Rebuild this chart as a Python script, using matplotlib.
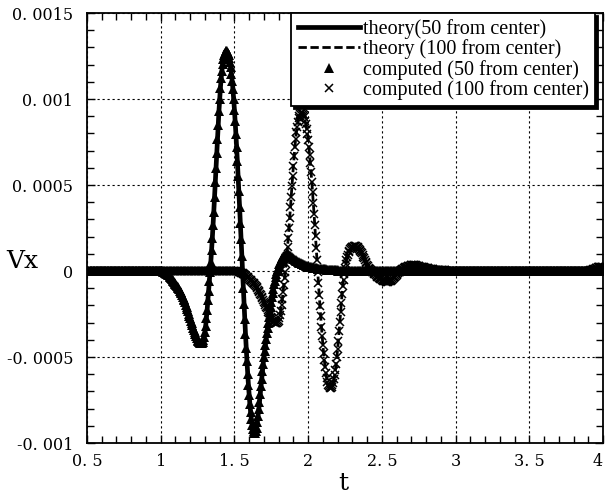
import numpy as np
import matplotlib
matplotlib.use("Agg")
import matplotlib.pyplot as plt
from matplotlib.ticker import FixedLocator, FixedFormatter, MultipleLocator

# ---------------- data (Vx in units of 1e-5) ----------------
T_START, T_END, T_STEP = 0.5, 4.0, 0.005
VX_UNIT = 1e-5

# 50 from center: samples every 0.005 from t = 1.000 to 2.300 (zero elsewhere)
v50_start = 1.0
v50_seg = [
    0, 0, -0.1, -0.3, -0.5, -0.7, -1.0, -1.2, -1.5, -1.9,
    -2.2, -2.6, -3.0, -3.5, -4.0, -4.5, -5.0, -5.6, -6.2, -6.9,
    -7.5, -8.1, -8.8, -9.4, -10.0, -10.7, -11.5, -12.2, -13.0, -14.0,
    -15.0, -16.0, -17.0, -18.2, -19.5, -20.7, -22.0, -23.4, -24.8, -26.1,
    -27.5, -28.9, -30.3, -31.6, -33.0, -34.3, -35.6, -36.8, -38.0, -39.0,
    -40.0, -40.8, -41.4, -41.8, -42.0, -42.0, -41.8, -41.2, -40.0, -38.2,
    -35.5, -32.0, -27.5, -22.5, -17.0, -11.5, -6.0, -0.5, 5.5, 12.0,
    19.0, 26.5, 34.5, 43.0, 51.5, 60.0, 68.5, 77.0, 85.0, 93.0,
    100.0, 106.5, 112.0, 116.5, 120.5, 123.5, 125.5, 127.0, 127.8, 128.0,
    127.8, 127.0, 125.8, 124.0, 121.5, 118.5, 114.8, 110.5, 105.6, 100.0,
    93.8, 87.0, 79.7, 72.0, 63.8, 55.2, 46.3, 37.2, 27.9, 18.4,
    8.8, -0.6, -9.9, -19.1, -28.1, -36.6, -44.8, -52.5, -59.6, -66.3,
    -72.2, -77.6, -82.2, -86.1, -89.3, -91.6, -93.2, -94.0, -94.0, -93.0,
    -91.0, -88.0, -84.5, -80.5, -76.0, -71.5, -67.0, -62.5, -58.0, -54.0,
    -50.0, -46.5, -43.0, -39.5, -36.0, -33.0, -30.0, -27.0, -24.0, -21.0,
    -18.0, -15.3, -12.7, -10.2, -7.8, -5.6, -3.6, -1.8, -0.2, 1.3,
    2.6, 3.8, 4.9, 5.9, 6.8, 7.5, 8.1, 8.6, 9.0, 9.3,
    9.5, 9.6, 9.6, 9.5, 9.3, 9.0, 8.7, 8.4, 8.0, 7.6,
    7.2, 6.8, 6.5, 6.2, 5.9, 5.6, 5.3, 5.0, 4.8, 4.6,
    4.4, 4.2, 4.0, 3.8, 3.6, 3.4, 3.2, 3.0, 2.8, 2.7,
    2.6, 2.5, 2.4, 2.3, 2.2, 2.1, 2.0, 1.9, 1.8, 1.7,
    1.6, 1.5, 1.5, 1.4, 1.4, 1.3, 1.3, 1.2, 1.2, 1.1,
    1.1, 1.0, 1.0, 0.9, 0.9, 0.8, 0.8, 0.7, 0.7, 0.6,
    0.6, 0.5, 0.5, 0.5, 0.4, 0.4, 0.4, 0.3, 0.3, 0.3,
    0.3, 0.2, 0.2, 0.2, 0.2, 0.2, 0.2, 0.2, 0.2, 0.2,
    0.1, 0.1, 0.1, 0.1, 0.1, 0.1, 0.1, 0.1, 0.1, 0.1,
    0.0,
]

# 100 from center: samples every 0.005 from t = 1.500 to 3.000
v100_start = 1.5
v100_seg = [
    0, 0, 0, 0, -0.1, -0.2, -0.4, -0.5, -0.7, -0.9,
    -1.1, -1.4, -1.6, -1.9, -2.2, -2.5, -2.9, -3.2, -3.6, -4.0,
    -4.5, -5.0, -5.4, -5.8, -6.3, -6.8, -7.2, -7.7, -8.3, -8.8,
    -9.4, -10.1, -10.8, -11.5, -12.2, -13.1, -14.0, -14.9, -15.8, -16.8,
    -17.9, -18.8, -19.8, -20.8, -21.8, -22.8, -23.8, -24.7, -25.6, -26.5,
    -27.4, -28.1, -28.8, -29.4, -29.8, -30.1, -30.2, -30.2, -30.1, -29.7,
    -28.8, -27.5, -25.6, -23.0, -19.8, -16.2, -12.2, -8.3, -4.3, -0.4,
    4.0, 8.6, 13.7, 19.1, 24.8, 31.0, 37.1, 43.2, 49.3, 55.4,
    61.2, 67.0, 72.0, 76.7, 80.6, 83.9, 86.8, 88.9, 90.4, 91.4,
    92.0, 92.2, 92.0, 91.4, 90.6, 89.3, 87.5, 85.3, 82.7, 79.6,
    76.0, 72.0, 67.5, 62.6, 57.4, 51.8, 45.9, 39.7, 33.3, 26.8,
    20.1, 13.2, 6.3, -0.4, -7.1, -13.8, -20.2, -26.4, -32.3, -37.8,
    -42.9, -47.7, -52.0, -55.9, -59.2, -62.0, -64.3, -66.0, -67.1, -67.7,
    -67.9, -68.0, -67.5, -66.5, -65.0, -63.0, -60.5, -57.5, -54.0, -50.0,
    -45.5, -40.5, -35.0, -29.5, -24.0, -18.5, -13.5, -9.0, -5.0, -1.5,
    1.5, 4.0, 6.2, 8.0, 9.5, 10.8, 11.8, 12.6, 13.2, 13.7,
    14.0, 14.2, 14.3, 14.4, 14.4, 14.3, 14.1, 13.8, 13.4, 12.9,
    12.3, 11.7, 11.0, 10.2, 9.3, 8.4, 7.4, 6.4, 5.4, 4.4,
    3.5, 2.7, 2.0, 1.4, 0.9, 0.4, 0.0, -0.4, -0.8, -1.2,
    -1.6, -2.0, -2.4, -2.8, -3.2, -3.6, -3.9, -4.3, -4.6, -4.9,
    -5.2, -5.4, -5.6, -5.8, -6.0, -6.1, -6.2, -6.2, -6.2, -6.1,
    -6.0, -5.8, -5.6, -5.3, -5.0, -4.6, -4.2, -3.7, -3.2, -2.7,
    -2.2, -1.7, -1.2, -0.8, -0.4, 0.0, 0.4, 0.8, 1.1, 1.4,
    1.7, 2.0, 2.2, 2.4, 2.6, 2.8, 2.9, 3.0, 3.1, 3.2,
    3.2, 3.3, 3.3, 3.3, 3.3, 3.2, 3.2, 3.1, 3.0, 2.9,
    2.8, 2.7, 2.6, 2.5, 2.4, 2.3, 2.2, 2.1, 2.0, 1.9,
    1.8, 1.7, 1.6, 1.5, 1.4, 1.3, 1.2, 1.1, 1.0, 0.9,
    0.9, 0.8, 0.8, 0.7, 0.7, 0.6, 0.6, 0.5, 0.5, 0.5,
    0.4, 0.4, 0.4, 0.3, 0.3, 0.3, 0.3, 0.2, 0.2, 0.2,
    0.2, 0.2, 0.1, 0.1, 0.1, 0.1, 0.1, 0.1, 0.0, 0.0,
    0.0,
]
v100_tail_start = 3.9
v100_tail = [0.0, 0.1, 0.2, 0.3, 0.4, 0.6, 0.8, 1.0, 1.2, 1.4, 1.6,
             1.8, 2.0, 2.1, 2.2, 2.3, 2.4, 2.4, 2.5, 2.5, 2.5]

x_ticks = [0.5, 1.0, 1.5, 2.0, 2.5, 3.0, 3.5, 4.0]
x_tick_labels = ["0. 5", "1", "1. 5", "2", "2. 5", "3", "3. 5", "4"]
y_ticks = [-0.001, -0.0005, 0.0, 0.0005, 0.001, 0.0015]
y_tick_labels = ["-0. 001", "-0. 0005", "0", "0. 0005", "0. 001", "0. 0015"]
legend_labels = ["theory(50 from center)", "theory (100 from center)",
                 "computed (50 from center)", "computed (100 from center)"]
x_label = "t"
y_label = "Vx"

# ---------------- build series ----------------
n = int(round((T_END - T_START) / T_STEP)) + 1
t = np.round(T_START + T_STEP * np.arange(n), 3)


def place(arr, start, seg):
    i = int(round((start - T_START) / T_STEP))
    arr[i:i + len(seg)] = seg


v50 = np.zeros(n)
v100 = np.zeros(n)
place(v50, v50_start, v50_seg)
place(v100, v100_start, v100_seg)
place(v100, v100_tail_start, v100_tail)
v50 *= VX_UNIT
v100 *= VX_UNIT

# ---------------- figure ----------------
W, H = 605, 495
fig = plt.figure(figsize=(W / 100, H / 100), dpi=100)
ax = fig.add_axes([87 / W, 1 - 443 / H, (603 - 87) / W, (443 - 13) / H])

ax.plot(t, v50, "-", color="k", lw=3.4, label=legend_labels[0], zorder=3)
ax.plot(t, v100, "--", color="k", lw=2.0, dashes=(3.0, 1.3),
        label=legend_labels[1], zorder=3)
ax.plot(t, v50, ls="none", marker="^", ms=7, mfc="k", mec="k", mew=0,
        label=legend_labels[2], zorder=4)
ax.plot(t, v100, ls="none", marker="x", ms=5.5, mec="k", mew=1.1,
        label=legend_labels[3], zorder=4)

ax.set_xlim(0.5, 4.0)
ax.set_ylim(-0.001, 0.0015)

ax.xaxis.set_major_locator(FixedLocator(x_ticks))
ax.xaxis.set_major_formatter(FixedFormatter(x_tick_labels))
ax.xaxis.set_minor_locator(MultipleLocator(0.1))
ax.yaxis.set_major_locator(FixedLocator(y_ticks))
ax.yaxis.set_major_formatter(FixedFormatter(y_tick_labels))
ax.yaxis.set_minor_locator(MultipleLocator(0.0001))

ax.tick_params(which="both", direction="in", top=True, right=True,
               color="k", width=1.0)
ax.tick_params(which="major", length=6)
ax.tick_params(which="minor", length=5)
ax.tick_params(axis="x", which="major", pad=7)
ax.tick_params(axis="y", which="major", pad=10)
fig.canvas.draw()
for lab in ax.get_xticklabels() + ax.get_yticklabels():
    lab.set_fontfamily("DejaVu Serif")
    lab.set_fontsize(11.5)
ax.get_xticklabels()[-1].set_horizontalalignment("right")

ax.grid(True, which="major", color="k", lw=0.8, linestyle=(0, (2, 2.5)))
ax.set_axisbelow(True)
for sp in ax.spines.values():
    sp.set_linewidth(1.3)
    sp.set_color("k")

fig.text(22 / W, 1 - 262 / H, y_label, fontfamily="DejaVu Serif",
         fontsize=18, ha="center", va="center")
fig.text(343 / W, 1 - 484 / H, x_label, fontfamily="DejaVu Serif",
         fontsize=18, ha="center", va="center")

leg = ax.legend(loc="upper right", bbox_to_anchor=(595 / W, 1 - 13 / H),
                bbox_transform=fig.transFigure, borderaxespad=0,
                prop={"family": "Liberation Serif", "size": 14.5},
                numpoints=1, handlelength=3.1, handletextpad=0.15,
                labelspacing=0.02, borderpad=0.3, fancybox=False,
                framealpha=1, edgecolor="k",
                shadow={"facecolor": "k", "edgecolor": "k", "alpha": 1})
leg.get_frame().set_linewidth(1.3)
leg.set_zorder(10)

fig.savefig("out.png", dpi=100)
